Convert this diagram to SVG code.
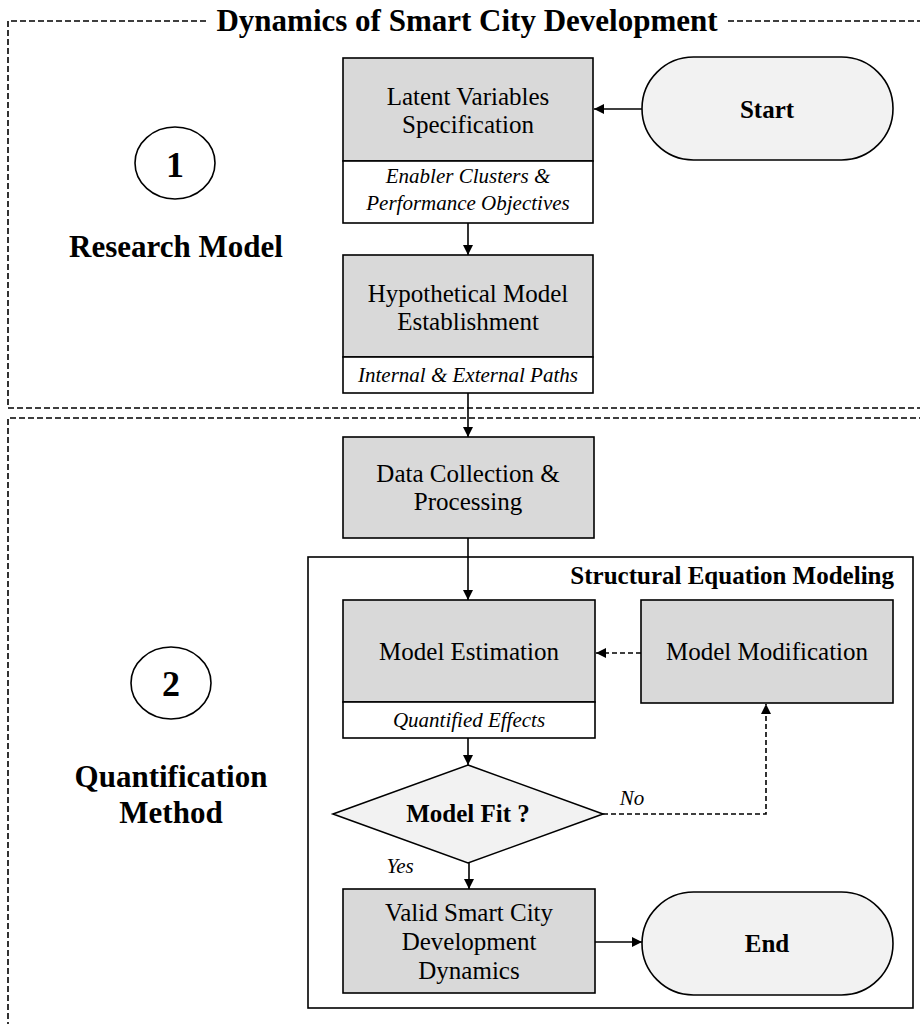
<svg xmlns="http://www.w3.org/2000/svg" width="920" height="1024" viewBox="0 0 920 1024">
<style>
.box{fill:#d9d9d9;stroke:#000;stroke-width:1.6}
.sub{fill:#fff;stroke:#000;stroke-width:1.6}
.term{fill:#f2f2f2;stroke:#000;stroke-width:1.6}
.frame{fill:none;stroke:#000;stroke-width:1.6;stroke-dasharray:6 3}
.sem{fill:none;stroke:#000;stroke-width:1.6}
.t{font-family:"Liberation Serif","Times New Roman",serif;font-size:25px;fill:#000;text-anchor:middle}
.b{font-weight:bold}
.i{font-style:italic;font-size:21px}
.h{font-family:"Liberation Serif","Times New Roman",serif;font-size:31px;font-weight:bold;fill:#000;text-anchor:middle}
.c{stroke:#000;stroke-width:1.6;fill:none}
.d{stroke-dasharray:5 3}
</style>
<defs>
<marker id="ah" markerUnits="userSpaceOnUse" markerWidth="10" markerHeight="10" refX="10" refY="5" orient="auto">
<path d="M0,0 L10,5 L0,10 z" fill="#000"/>
</marker>
</defs>

<g id="frames">
<path class="frame" d="M206,21 H8 V408 H925"/>
<path class="frame" d="M728,21 H925"/>
<path class="frame" d="M925,418 H8 V1030"/>
<text class="h" x="467" y="31">Dynamics of Smart City Development</text>
</g>

<g id="phase1">
<ellipse cx="175" cy="163" rx="40" ry="36" fill="#fff" stroke="#000" stroke-width="1.6"/>
<text class="h" x="175" y="177" style="font-size:36px">1</text>
<text class="h" x="176" y="257">Research Model</text>
</g>

<g id="phase2">
<ellipse cx="171" cy="683" rx="40" ry="36" fill="#fff" stroke="#000" stroke-width="1.6"/>
<text class="h" x="171" y="696" style="font-size:36px">2</text>
<text class="h" x="171" y="787">Quantification</text>
<text class="h" x="171" y="823">Method</text>
</g>

<g id="sem">
<rect class="sem" x="308" y="557" width="605" height="451"/>
<text class="t b" x="894" y="584" style="text-anchor:end">Structural Equation Modeling</text>
</g>

<g id="start">
<rect class="term" x="642" y="57" width="251" height="103" rx="51.5" ry="51.5"/>
<text class="t b" x="767" y="118">Start</text>
</g>

<g id="latent">
<rect class="box" x="343" y="58" width="250" height="103"/>
<rect class="sub" x="343" y="161" width="250" height="62"/>
<text class="t" x="468" y="105">Latent Variables</text>
<text class="t" x="468" y="133">Specification</text>
<text class="t i" x="468" y="183">Enabler Clusters &amp;</text>
<text class="t i" x="468" y="210">Performance Objectives</text>
</g>

<g id="hypothetical">
<rect class="box" x="343" y="255" width="250" height="102"/>
<rect class="sub" x="343" y="357" width="250" height="36"/>
<text class="t" x="468" y="302">Hypothetical Model</text>
<text class="t" x="468" y="330">Establishment</text>
<text class="t i" x="468" y="382">Internal &amp; External Paths</text>
</g>

<g id="data">
<rect class="box" x="343" y="437" width="251" height="101"/>
<text class="t" x="468" y="482">Data Collection &amp;</text>
<text class="t" x="468" y="510">Processing</text>
</g>

<g id="estimation">
<rect class="box" x="343" y="600" width="252" height="102"/>
<rect class="sub" x="343" y="702" width="252" height="36"/>
<text class="t" x="469" y="660">Model Estimation</text>
<text class="t i" x="469" y="727">Quantified Effects</text>
</g>

<g id="modification">
<rect class="box" x="641" y="600" width="252" height="103"/>
<text class="t" x="767" y="660">Model Modification</text>
</g>

<g id="fit">
<polygon class="term" points="468,765 603,814 468,863 333,814"/>
<text class="t b" x="468" y="822">Model Fit ?</text>
</g>

<g id="valid">
<rect class="box" x="343" y="889" width="252" height="104"/>
<text class="t" x="469" y="921">Valid Smart City</text>
<text class="t" x="469" y="950">Development</text>
<text class="t" x="469" y="979">Dynamics</text>
</g>

<g id="end">
<rect class="term" x="642" y="892" width="251" height="103" rx="51.5" ry="51.5"/>
<text class="t b" x="767" y="952">End</text>
</g>

<g id="connectors">
<line class="c" x1="642" y1="109" x2="594" y2="109" marker-end="url(#ah)"/>
<line class="c" x1="468" y1="223" x2="468" y2="255" marker-end="url(#ah)"/>
<line class="c" x1="468" y1="393" x2="468" y2="437" marker-end="url(#ah)"/>
<line class="c" x1="468" y1="538" x2="468" y2="600" marker-end="url(#ah)"/>
<line class="c d" x1="641" y1="653" x2="596" y2="653" marker-end="url(#ah)"/>
<line class="c" x1="468" y1="738" x2="468" y2="765" marker-end="url(#ah)"/>
<path class="c d" d="M603,814 H766 V704" marker-end="url(#ah)"/>
<line class="c" x1="469" y1="863" x2="469" y2="889" marker-end="url(#ah)"/>
<line class="c" x1="595" y1="942" x2="642" y2="942" marker-end="url(#ah)"/>
<text class="t i" x="632" y="805">No</text>
<text class="t i" x="400" y="873">Yes</text>
</g>
</svg>
